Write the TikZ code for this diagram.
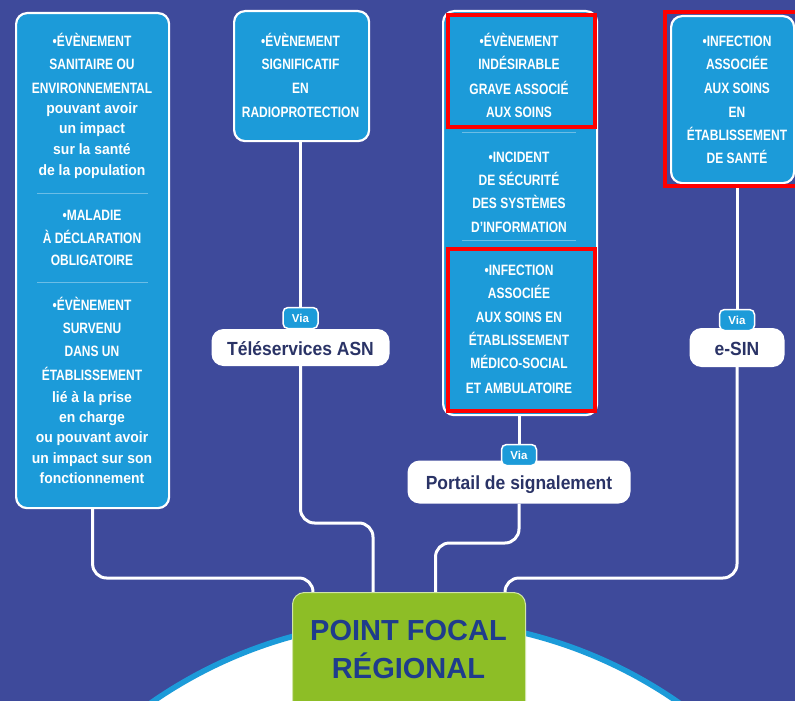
\documentclass[tikz,border=0pt]{standalone}
\usepackage{fontspec}
\setmainfont{Liberation Sans}
\newfontfamily\capsf[FakeStretch=0.8]{Liberation Sans}
\newfontfamily\lowf[FakeStretch=0.93]{Liberation Sans}
\newfontfamily\pillf[FakeStretch=0.92]{Liberation Sans}
\usetikzlibrary{calc}
\definecolor{bgblue}{HTML}{3E4A9B}
\definecolor{boxblue}{HTML}{1C9BD9}
\definecolor{pillnavy}{HTML}{2A3366}
\definecolor{leaf}{HTML}{8DBE26}
\definecolor{focalblue}{HTML}{1F3C8C}
\definecolor{redframe}{HTML}{FF0000}
\pgfdeclarelayer{back}
\pgfsetlayers{back,main}
\tikzset{
  box/.style={draw=white, line width=2.2pt, fill=boxblue, rounded corners=11pt, inner sep=0pt, anchor=north west},
  txtc/.style={anchor=base, inner sep=0pt, text=white, font=\capsf\bfseries\fontsize{15}{15}\selectfont},
  txtl/.style={anchor=base, inner sep=0pt, text=white, font=\lowf\bfseries\fontsize{15}{15}\selectfont},
  sepline/.style={draw=white, opacity=0.35, line width=1pt},
  pill/.style={fill=white, rounded corners=12pt, inner sep=0pt, text=pillnavy, text height=15pt, text depth=0pt, font=\pillf\bfseries\fontsize{19}{19}\selectfont},
  viabadge/.style={fill=boxblue, draw=white, line width=1.5pt, rounded corners=5pt, inner sep=0pt, minimum width=35pt, minimum height=21pt, text=white, text height=8pt, text depth=0pt, font=\bfseries\fontsize{11.5}{11.5}\selectfont},
  conn/.style={draw=white, line width=3pt, rounded corners=14pt},
  focal/.style={fill=leaf, draw=white!60!leaf, line width=1pt, rounded corners=12pt, anchor=north west, inner sep=0pt},
  focaltxt/.style={anchor=base, inner sep=0pt, text=focalblue, font=\bfseries\fontsize{29}{29}\selectfont},
  redbox/.style={draw=redframe, line width=4pt},
}
\begin{document}
\begin{tikzpicture}[x=1pt,y=-1pt]
\useasboundingbox (0,0) rectangle (795,701);
\clip (0,0) rectangle (795,701);

% boxes
\node[box, minimum width=153pt, minimum height=495pt] (b1) at (15,12) {};
\node[box, minimum width=135pt, minimum height=130pt] (b2) at (233,10) {};
\node[box, minimum width=154pt, minimum height=404pt] (b3) at (442,10) {};
\node[box, minimum width=123pt, minimum height=167pt] (b4) at (670,15) {};

% separators
\draw[sepline] (37,193) -- (148,193);
\draw[sepline] (37,282) -- (148,282);
\draw[sepline] (462,132) -- (576,132);
\draw[sepline] (462,240) -- (576,240);

% texts box 1
\foreach \yy/\st/\txt [count=\i] in {
  47/c/{•ÉVÈNEMENT}, 70/c/{SANITAIRE OU}, 93/c/{ENVIRONNEMENTAL},
  113/l/{pouvant avoir}, 133/l/{un impact}, 154/l/{sur la santé}, 175/l/{de la population},
  220/c/{•MALADIE}, 243/c/{À DÉCLARATION}, 265/c/{OBLIGATOIRE},
  310/c/{•ÉVÈNEMENT}, 333/c/{SURVENU}, 356/c/{DANS UN}, 380/c/{ÉTABLISSEMENT},
  402/l/{lié à la prise}, 422/l/{en charge}, 442/l/{ou pouvant avoir},
  463/l/{un impact sur son}, 483/l/{fonctionnement}}
  \node[txt\st, name=ta\i] at (92,\yy) {\txt};

% texts box 2
\foreach \yy/\txt [count=\i] in {47/{•ÉVÈNEMENT}, 70/{SIGNIFICATIF}, 93/{EN}, 117/{RADIOPROTECTION}}
  \node[txtc, name=tb\i] at (300.5,\yy) {\txt};

% texts box 3
\foreach \yy/\txt [count=\i] in {
  47/{•ÉVÈNEMENT}, 70/{INDÉSIRABLE}, 94/{GRAVE ASSOCIÉ}, 117/{AUX SOINS},
  162/{•INCIDENT}, 185/{DE SÉCURITÉ}, 208/{DES SYSTÈMES}, 232/{D’INFORMATION},
  275/{•INFECTION}, 298/{ASSOCIÉE}, 322/{AUX SOINS EN}, 345/{ÉTABLISSEMENT},
  368/{MÉDICO-SOCIAL}, 393/{ET AMBULATOIRE}}
  \node[txtc, name=tc\i] at (519,\yy) {\txt};

% texts box 4
\foreach \yy/\txt [count=\i] in {47/{•INFECTION}, 70/{ASSOCIÉE}, 93/{AUX SOINS}, 117/{EN}, 140/{ÉTABLISSEMENT}, 163/{DE SANTÉ}}
  \node[txtc, name=td\i] at (737,\yy) {\txt};

% pills
\node[pill, minimum width=178pt, minimum height=37pt] (p1) at (300.5,347.5) {Téléservices ASN};
\node[pill, minimum width=223pt, minimum height=43pt] (p2) at (519,482) {Portail de signalement};
\node[pill, minimum width=95pt, minimum height=39pt] (p3) at (737,347.5) {e-SIN};

% via badges
\node[viabadge] (v1) at (300.5,318) {Via};
\node[viabadge] (v2) at (519,455) {Via};
\node[viabadge] (v3) at (737,320) {Via};

% focal point
\node[focal, minimum width=233pt, minimum height=130pt] (pf) at (292,592) {};
\node[focaltxt] (pf1) at (408.5,640) {POINT FOCAL};
\node[focaltxt] (pf2) at (408.5,678) {RÉGIONAL};

% red frames
\draw[redbox] (448,15) rectangle (595,127);
\draw[redbox] (448,249) rectangle (595,411);
\draw[redbox] (665,12) rectangle (805,186);

\begin{pgfonlayer}{back}
  \fill[bgblue] (0,0) rectangle (795,701);
  \draw[line width=5.5pt, draw=boxblue, fill=white] (415,1082) circle[radius=462pt];
  \draw[conn] (b1.south) |- ($(pf.north west)+(21,-14)$) -- ($(pf.north west)+(21,0)$);
  \draw[conn] (p1.north |- b2.south) -- (p1.north);
  \draw[conn] (p1.south) |- ($(pf.north)+(-36,-69)$) -- ($(pf.north)+(-36,0)$);
  \draw[conn] (p2.north |- b3.south) -- (p2.north);
  \draw[conn] (p2.south) |- ($(pf.north)+(26.5,-49)$) -- ($(pf.north)+(26.5,0)$);
  \draw[conn] (p3.north |- b4.south) -- (p3.north);
  \draw[conn] (p3.south) |- ($(pf.north east)+(-21,-14)$) -- ($(pf.north east)+(-21,0)$);
\end{pgfonlayer}
\end{tikzpicture}
\end{document}
